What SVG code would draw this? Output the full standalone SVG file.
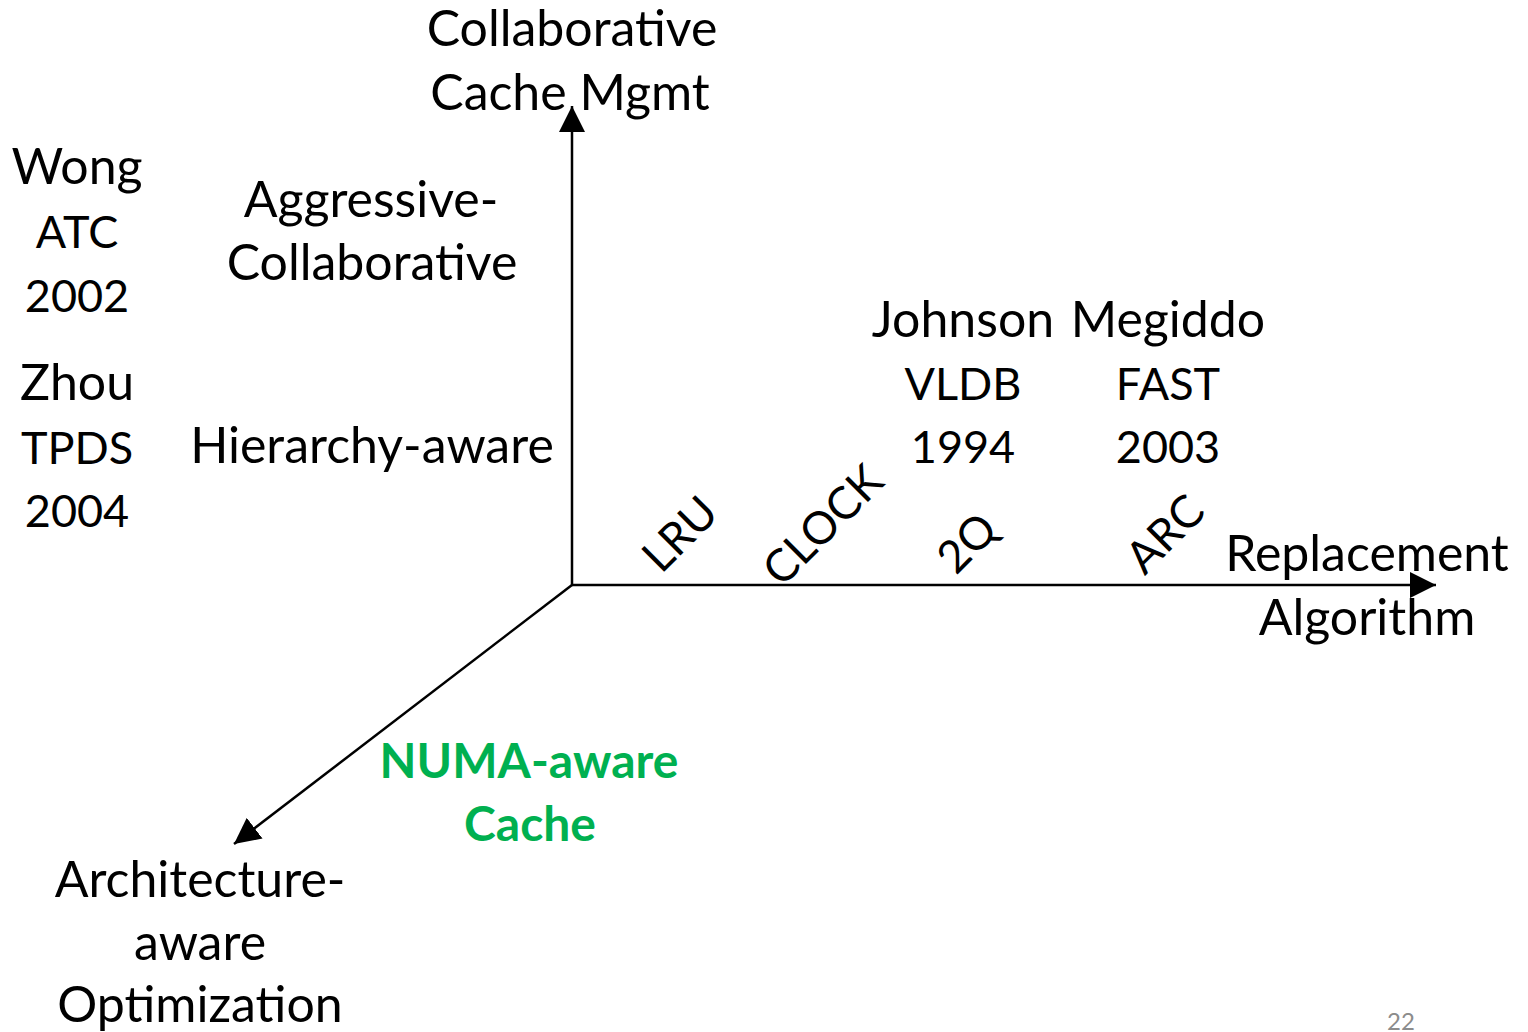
<svg xmlns="http://www.w3.org/2000/svg" width="1528" height="1032" viewBox="0 0 1528 1032">
  <style>
    .t { font-family: Lato, "Open Sans", "Liberation Sans", sans-serif; font-size: 50px; fill: #000; text-anchor: middle; }
    .c { font-size: 45px; }
    .g { font-family: Lato, "Open Sans", "Liberation Sans", sans-serif; font-size: 48px; font-weight: bold; fill: #00b050; text-anchor: middle; }
    .pg { font-family: Lato, "Open Sans", "Liberation Sans", sans-serif; font-size: 24px; fill: #8c8c8c; text-anchor: middle; }
    .axis { stroke: #000; stroke-width: 2.5; fill: none; }
  </style>
  <defs>
    <marker id="head" viewBox="-26 -14 28 28" refX="0" refY="0" markerWidth="28" markerHeight="28" markerUnits="userSpaceOnUse" orient="auto">
      <path d="M0,0 L-26,-13 L-26,13 Z" fill="#000"/>
    </marker>
  </defs>

  <!-- axes -->
  <g id="connectors">
    <line class="axis" x1="572" y1="585" x2="572" y2="106" marker-end="url(#head)"/>
    <line class="axis" x1="572" y1="585" x2="1436" y2="585" marker-end="url(#head)"/>
    <line class="axis" x1="572" y1="585" x2="234" y2="844" marker-end="url(#head)"/>
  </g>

  <!-- axis labels -->
  <g id="axis-y">
    <text class="t" x="572" y="46">Collaborative</text>
    <text class="t" x="570" y="110">Cache Mgmt</text>
  </g>
  <g id="axis-x">
    <text class="t" x="1367" y="571">Replacement</text>
    <text class="t" x="1367" y="635">Algorithm</text>
  </g>
  <g id="axis-z">
    <text class="t" x="200" y="897">Architecture-</text>
    <text class="t" x="200" y="960">aware</text>
    <text class="t" x="200" y="1022">Optimization</text>
  </g>

  <!-- collaborative-axis entries -->
  <g id="aggressive">
    <text class="t" x="371" y="217">Aggressive-</text>
    <text class="t" x="372" y="280">Collaborative</text>
  </g>
  <g id="hierarchy">
    <text class="t" x="372" y="463">Hierarchy-aware</text>
  </g>
  <g id="wong">
    <text class="t" x="77" y="184">Wong</text>
    <text class="t c" x="77" y="248">ATC</text>
    <text class="t c" x="77" y="312">2002</text>
  </g>
  <g id="zhou">
    <text class="t" x="77" y="400">Zhou</text>
    <text class="t c" x="77" y="464">TPDS</text>
    <text class="t c" x="77" y="527">2004</text>
  </g>

  <!-- replacement-algorithm entries -->
  <g id="lru"><text class="t c" transform="translate(691,545) rotate(-45)">LRU</text></g>
  <g id="clock"><text class="t c" transform="translate(834,536) rotate(-45)">CLOCK</text></g>
  <g id="twoq"><text class="t c" transform="translate(978,554) rotate(-45)">2Q</text></g>
  <g id="arc"><text class="t c" transform="translate(1176,545) rotate(-45)">ARC</text></g>
  <g id="johnson">
    <text class="t" x="963" y="337">Johnson</text>
    <text class="t c" x="963" y="400">VLDB</text>
    <text class="t c" x="963" y="463">1994</text>
  </g>
  <g id="megiddo">
    <text class="t" x="1168" y="337">Megiddo</text>
    <text class="t c" x="1168" y="400">FAST</text>
    <text class="t c" x="1168" y="463">2003</text>
  </g>

  <!-- architecture-axis entry -->
  <g id="numa">
    <text class="g" x="529" y="778">NUMA-aware</text>
    <text class="g" x="530" y="841">Cache</text>
  </g>

  <text class="pg" x="1401" y="1030">22</text>
</svg>
